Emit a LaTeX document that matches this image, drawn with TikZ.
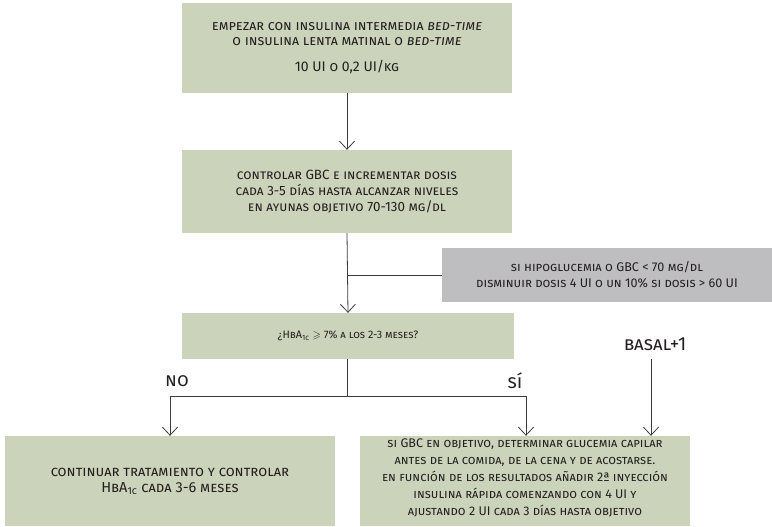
\documentclass[tikz,border=0pt]{standalone}
\usepackage{fontspec}
\usepackage{amssymb}
\setmainfont{Fira Sans}
\usetikzlibrary{arrows.meta}
\definecolor{boxgreen}{RGB}{203,211,186}
\definecolor{boxgray}{RGB}{190,190,192}
\definecolor{ink}{RGB}{35,31,32}
\definecolor{wire}{RGB}{60,60,60}
\tikzset{
  gbox/.style={fill=boxgreen, draw=none, align=center, inner sep=0pt, text=ink},
  graybox/.style={fill=boxgray, draw=none, align=center, inner sep=0pt, text=ink},
  lbl/.style={text=ink, inner sep=1pt, font=\fontsize{19}{20}\selectfont\scshape},
  wirestyle/.style={draw=wire, line width=0.8pt},
  arr/.style={wirestyle, -{Straight Barb[length=8pt, width=15pt, line width=0.8pt]}},
}
\begin{document}
\begin{tikzpicture}[x=1pt,y=-1pt]
\useasboundingbox (0,0) rectangle (772,527);
\node[gbox, minimum width=330pt, minimum height=90pt, font=\fontsize{14}{15}\selectfont\scshape] (b1) at (347,48)
  {};
\node[align=center, inner sep=0pt, text=ink, font=\fontsize{14}{15}\selectfont\scshape] (b1t) at (b1.center)
  {empezar con insulina intermedia \textit{bed-time}\\
   o insulina lenta matinal o \textit{bed-time}\\[11pt]
   10 UI o 0,2 UI/kg};
\node[gbox, minimum width=330pt, minimum height=83pt, font=\fontsize{13.4}{16}\selectfont\scshape] (b2) at (347,191.5)
  {controlar GBC e incrementar dosis\\
   cada 3-5 días hasta alcanzar niveles\\
   en ayunas objetivo 70-130 mg/dl};
\node[graybox, minimum width=330pt, minimum height=54pt, font=\fontsize{12.6}{16}\selectfont\scshape] (g) at (607,275)
  {si hipoglucemia o GBC < 70 mg/dl\\
   disminuir dosis 4 UI o un 10\% si dosis > 60 UI};
\node[gbox, minimum width=332pt, minimum height=46pt, font=\fontsize{10.8}{14}\selectfont\scshape] (b3) at (348,336)
  {¿HbA\textsubscript{1c} $\geqslant$ 7\% a los 2-3 meses?};
\node[gbox, minimum width=330pt, minimum height=90pt, font=\fontsize{14.5}{16}\selectfont\scshape] (bl) at (170,481)
  {continuar tratamiento y controlar\\
   HbA\textsubscript{1c} cada 3-6 meses};
\node[gbox, minimum width=330pt, minimum height=90pt] (br) at (525,481) {};
\node[align=center, inner sep=0pt, text=ink, font=\fontsize{12.5}{17}\selectfont\scshape] (brt) at ([yshift=3pt]br.center)
  {si GBC en objetivo, determinar glucemia capilar\\
   antes de la comida, de la cena y de acostarse.\\
   en función de los resultados añadir 2ª inyección\\
   insulina rápida comenzando con 4 UI y\\
   ajustando 2 UI cada 3 días hasta objetivo};
\node[lbl] (basal) at (655,344) {basal+1};
\node[lbl] (no) at (177,381) {no};
\node[lbl] (si) at (515,381) {sí};
\coordinate (j) at (347,396);
\coordinate (bs) at (651,359);
\draw[arr] (b1.south) -- (b2.north);
\draw[arr] (b2.south) -- (b3.north);
\draw[wirestyle] (g.west) -- (g.west -| b2.south);
\draw[wirestyle] (b3.south -| j) -- (j);
\draw[arr] (j) -| (bl.north);
\draw[arr] (j) -| ([xshift=1pt]br.north);
\draw[arr] (bs) -- (bs |- br.north);
\end{tikzpicture}
\end{document}
